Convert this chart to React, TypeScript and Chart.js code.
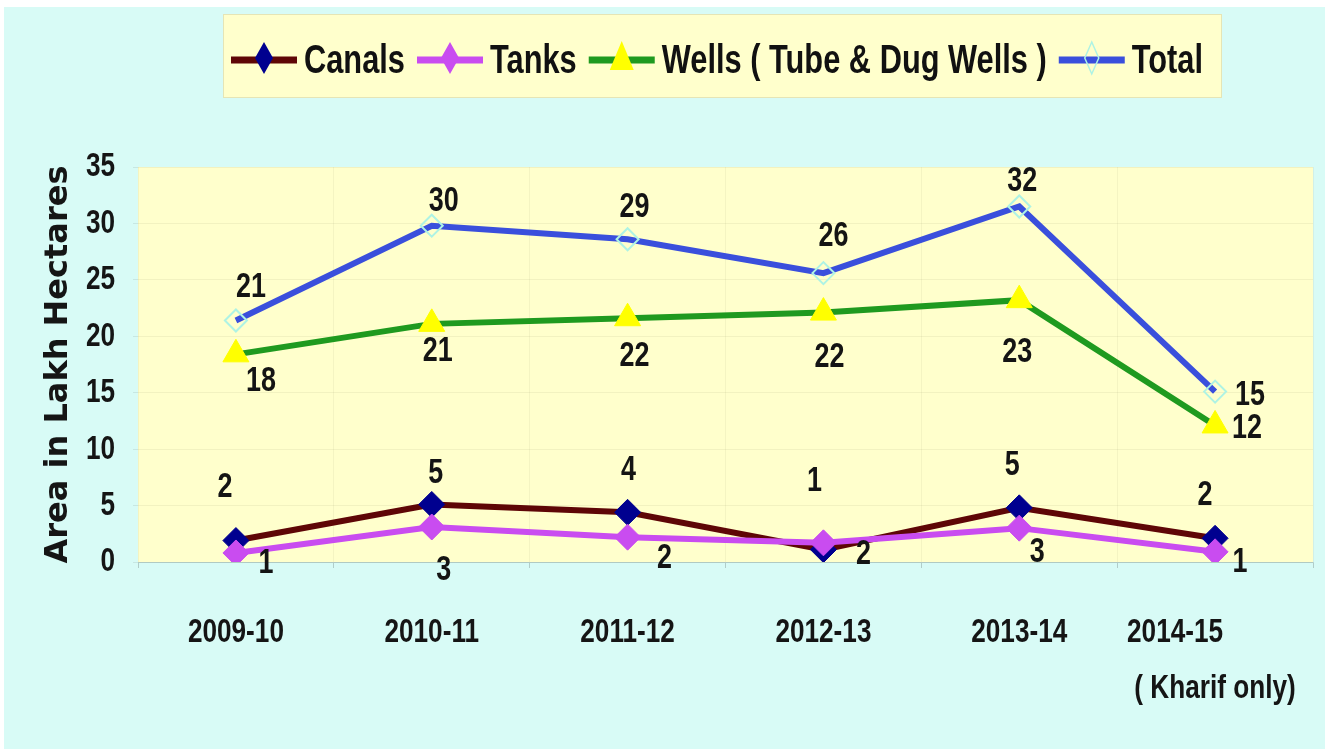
import React, { useEffect, useRef } from 'react';
import { Chart, registerables } from 'chart.js';

Chart.register(...registerables);

// ---------------- data ----------------
const categories = ['2009-10', '2010-11', '2011-12', '2012-13', '2013-14', '2014-15'];
const lastCategoryNote = '( Kharif only)';
const seriesNames = ['Canals', 'Tanks', 'Wells ( Tube & Dug Wells )', 'Total'];
const canals = [1.9, 5.1, 4.4, 1.1, 4.8, 2.1];
const tanks = [0.8, 3.1, 2.2, 1.7, 3.0, 0.9];
const wells = [18.4, 21.1, 21.6, 22.1, 23.2, 12.1];
const total = [21.4, 29.8, 28.6, 25.6, 31.5, 15.1];
const yMin = 0;
const yMax = 35;
const yStep = 5;
const yTitle = 'Area in Lakh Hectares';

// ---------------- styles ----------------
const NARROW = "'Liberation Sans', Arial, sans-serif";
const WIDE = "'DejaVu Sans', Verdana, sans-serif";
const CONDENSE = 0.77;
const CYAN = '#d8fbf6';
const YELLOW = '#ffffcc';

// per-point label offsets (dx, dy) in px relative to the marker
const labelOffsets: number[][][] = [
  [[-11, -53], [4, -31], [1, -42], [-9, -68], [-7, -42], [-10, -43]],
  [[30, 10], [12, 43], [37, 21], [40, 12], [18, 24], [25, 11]],
  [[25, 27], [6, 27], [7, 38], [6, 45], [-2, 52], [32, 3]],
  [[15, -33], [12, -24], [7, -32], [10, -37], [3, -25], [35, 4]],
];

const lineColors = ['#5e0606', '#c94cf0', '#1f9a1f', '#3a4fdc'];
const markerFill = ['#00008f', '#c94cf0', '#ffff00', 'rgba(0,0,0,0)'];
const markerBorder = ['#00008f', '#c94cf0', '#ffff00', '#aef3e4'];
const markerStyle = ['rectRot', 'rectRot', 'triangle', 'rectRot'];
const markerRadius = [13, 13, 15, 11];

// draws text set in the narrow family horizontally condensed (Calibri-like look)
const condensePlugin = {
  id: 'condenseText',
  beforeDraw(chart: any) {
    const ctx: any = chart.ctx;
    if (ctx.__origFill) return;
    const orig = ctx.fillText;
    ctx.__origFill = orig;
    ctx.fillText = function (text: string, x: number, y: number, maxWidth?: number) {
      if (typeof this.font === 'string' && this.font.indexOf('Liberation') >= 0) {
        this.save();
        this.translate(x, y);
        this.scale(CONDENSE, 1);
        if (maxWidth !== undefined) orig.call(this, text, 0, 0, maxWidth / CONDENSE);
        else orig.call(this, text, 0, 0);
        this.restore();
      } else if (maxWidth !== undefined) {
        orig.call(this, text, x, y, maxWidth);
      } else {
        orig.call(this, text, x, y);
      }
    };
  },
};

const backgroundPlugin = {
  id: 'bgPlugin',
  beforeDraw(chart: any) {
    const { ctx, chartArea } = chart;
    ctx.save();
    ctx.fillStyle = '#ffffff';
    ctx.fillRect(0, 0, chart.width, chart.height);
    ctx.fillStyle = CYAN;
    ctx.fillRect(4, 7, chart.width - 11, chart.height - 7);
    ctx.fillStyle = YELLOW;
    ctx.fillRect(chartArea.left, chartArea.top, chartArea.right - chartArea.left, chartArea.bottom - chartArea.top);
    ctx.restore();
  },
};

const valueLabelPlugin = {
  id: 'valueLabels',
  afterDatasetsDraw(chart: any) {
    const { ctx } = chart;
    ctx.save();
    ctx.font = `bold 35px ${NARROW}`;
    ctx.fillStyle = '#141414';
    ctx.textAlign = 'center';
    ctx.textBaseline = 'middle';
    chart.data.datasets.forEach((ds: any, di: number) => {
      const meta = chart.getDatasetMeta(di);
      meta.data.forEach((pt: any, i: number) => {
        const off = labelOffsets[di][i];
        ctx.fillText(String(Math.round(ds.data[i])), pt.x + off[0], pt.y + off[1]);
      });
    });
    ctx.restore();
  },
};

function drawMarker(ctx: CanvasRenderingContext2D, kind: number, x: number, y: number) {
  ctx.save();
  if (kind === 2) {
    ctx.fillStyle = '#ffff00';
    ctx.beginPath();
    ctx.moveTo(x, y - 17);
    ctx.lineTo(x + 12, y + 12);
    ctx.lineTo(x - 12, y + 12);
    ctx.closePath();
    ctx.fill();
  } else {
    ctx.beginPath();
    const hw = kind === 3 ? 7 : 9;
    const hh = 16;
    ctx.moveTo(x, y - hh);
    ctx.lineTo(x + hw, y);
    ctx.lineTo(x, y + hh);
    ctx.lineTo(x - hw, y);
    ctx.closePath();
    if (kind === 3) {
      ctx.strokeStyle = '#aef3e4';
      ctx.lineWidth = 1.5;
      ctx.stroke();
    } else {
      ctx.fillStyle = markerFill[kind];
      ctx.fill();
    }
  }
  ctx.restore();
}

const legendPlugin = {
  id: 'customLegend',
  afterDraw(chart: any) {
    const { ctx } = chart;
    ctx.save();
    ctx.fillStyle = YELLOW;
    ctx.fillRect(223, 14, 999, 84);
    ctx.strokeStyle = 'rgba(180,180,140,0.35)';
    ctx.lineWidth = 1;
    ctx.strokeRect(223.5, 14.5, 998, 83);
    ctx.font = `bold 40px ${NARROW}`;
    ctx.textBaseline = 'middle';
    ctx.textAlign = 'left';
    let x = 231;
    const y = 60;
    seriesNames.forEach((name, i) => {
      ctx.strokeStyle = lineColors[i];
      ctx.lineWidth = 7;
      ctx.beginPath();
      ctx.moveTo(x, y);
      ctx.lineTo(x + 66, y);
      ctx.stroke();
      drawMarker(ctx, i, x + 33, y - 2);
      ctx.fillStyle = '#111111';
      ctx.fillText(name, x + 73, y + 2);
      x += 73 + ctx.measureText(name).width * CONDENSE + 12;
    });
    ctx.restore();
  },
};

export default function App() {
  const ref = useRef<HTMLCanvasElement | null>(null);
  useEffect(() => {
    if (!ref.current) return;
    const series = [canals, tanks, wells, total];
    const chart = new Chart(ref.current, {
      type: 'line',
      data: {
        labels: categories,
        datasets: series.map((d, i) => ({
          label: seriesNames[i],
          data: d,
          borderColor: lineColors[i],
          backgroundColor: markerFill[i],
          borderWidth: 6,
          tension: 0,
          pointStyle: markerStyle[i] as any,
          pointRadius: markerRadius[i],
          pointHoverRadius: markerRadius[i],
          pointBackgroundColor: markerFill[i],
          pointBorderColor: markerBorder[i],
          pointBorderWidth: i === 3 ? 2 : 1,
          order: 3 - i,
        })),
      },
      options: {
        responsive: false,
        animation: false,
        devicePixelRatio: 1,
        layout: { padding: { left: 0, top: 167, right: 19, bottom: 0 } },
        plugins: {
          legend: { display: false },
          tooltip: { enabled: false },
        },
        scales: {
          x: {
            offset: true,
            afterFit(scale: any) {
              scale.height = 187;
              scale.paddingLeft = 0;
              scale.paddingRight = 0;
            },
            grid: {
              display: true,
              offset: true,
              color: 'rgba(150,150,110,0.10)',
              tickColor: 'rgba(0,0,0,0.18)',
              tickLength: 6,
            },
            border: { display: true, color: 'rgba(0,0,0,0.15)' },
            ticks: {
              color: '#151515',
              padding: 36,
              maxRotation: 0,
              minRotation: 0,
              autoSkip: false,
              font: { family: NARROW, size: 34, weight: 'bold', lineHeight: 1.66 },
              callback: (_v: any, idx: number) => {
                const c = categories[idx];
                if (idx === categories.length - 1) {
                  return [c + '           ', lastCategoryNote];
                }
                return c;
              },
            },
          },
          y: {
            min: yMin,
            max: yMax,
            afterFit(scale: any) {
              scale.width = 138;
              scale.paddingTop = 0;
              scale.paddingBottom = 0;
            },
            grid: {
              color: 'rgba(150,150,110,0.12)',
              tickColor: 'rgba(0,0,0,0.08)',
              tickLength: 5,
            },
            border: { display: false },
            ticks: {
              stepSize: yStep,
              color: '#151515',
              padding: 18,
              font: { family: NARROW, size: 34, weight: 'bold' },
            },
            title: {
              display: true,
              text: yTitle,
              color: '#151515',
              padding: { top: 39, bottom: 0 },
              font: { family: WIDE, size: 32, weight: 'bold', lineHeight: 1.2 },
            },
          },
        },
      },
      plugins: [condensePlugin, backgroundPlugin, valueLabelPlugin, legendPlugin],
    });
    return () => chart.destroy();
  }, []);
  return (
    <div style={{ position: 'fixed', left: 0, top: 0, width: 1332, height: 749 }}>
      <canvas ref={ref} width={1332} height={749} style={{ width: 1332, height: 749, display: 'block' }} />
    </div>
  );
}
